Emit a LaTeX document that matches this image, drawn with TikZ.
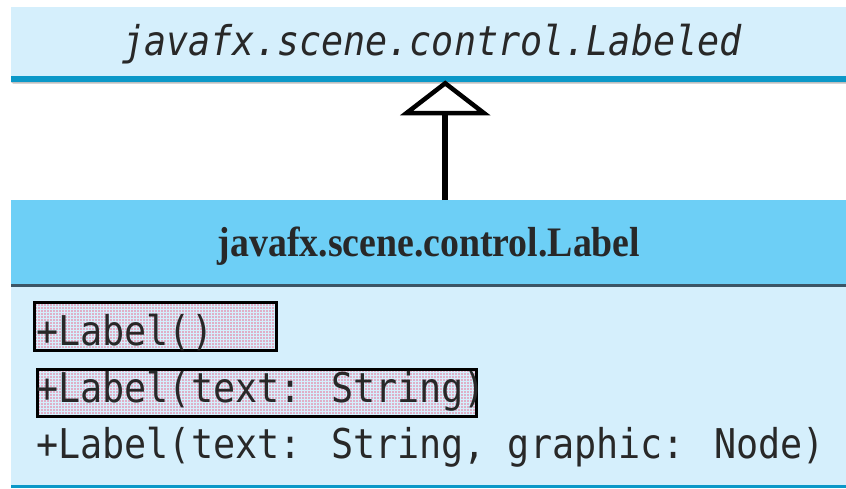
\documentclass[tikz,border=0pt]{standalone}
\usepackage{fontspec}
\setmainfont{Liberation Serif}
\newfontfamily\umlmono[FakeStretch=0.896]{DejaVu Sans Mono}
\newfontfamily\headserif[FakeStretch=0.9]{Liberation Serif}
\usetikzlibrary{arrows.meta,patterns.meta,calc}

\definecolor{paleblue}{RGB}{213,239,252}
\definecolor{headblue}{RGB}{109,207,246}
\definecolor{bandblue}{RGB}{11,152,200}
\definecolor{darkrule}{RGB}{59,85,102}
\definecolor{dotpink}{RGB}{234,110,145}
\definecolor{inkgray}{RGB}{40,40,40}

\begin{document}
\begin{tikzpicture}[x=1pt,y=-1pt,
  classbox/.style={rectangle, draw=none, inner sep=0pt, anchor=north west,
    minimum width=835pt},
  monotext/.style={font=\umlmono\fontsize{41}{48}\selectfont, text=inkgray},
  member/.style={monotext, anchor=base west, inner sep=0pt},
  marked/.style={rectangle, anchor=north west, inner sep=0pt, draw=black,
    line width=3pt, pattern={Dots[distance=3pt,radius=0.8pt]},
    pattern color=dotpink},
  generalize/.style={line width=5.5pt, draw=black,
    -{Triangle[open,length=35pt,width=90pt,line width=4.5pt]}}
]
\useasboundingbox (0,0) rectangle (846,488);

% superclass box
\node[classbox, fill=paleblue, minimum height=69pt] (labeled) at (11,7) {};
\fill[bandblue] (11,76) rectangle (846,82);
\fill[black!25] (11,82) -- (846,82) -- (846,83.5) -- (13,83.5) -- cycle;
\node[monotext, anchor=base] (labeledname) at (432,55)
  {\itshape javafx.scene.control.Labeled};

% Label class: name compartment
\node[classbox, fill=headblue, minimum height=84pt] (header) at (11,200) {};
\fill[darkrule] (11,284) rectangle (846,287);
\node[anchor=base, font=\headserif\bfseries\fontsize{42}{48}\selectfont,
  text=inkgray] (labelname) at (429,256) {javafx.scene.control.Label};

% Label class: member compartment
\node[classbox, fill=paleblue, minimum height=198pt] (body) at (11,287) {};
\fill[bandblue] (11,485) rectangle (846,488);

\node[marked, minimum width=242pt, minimum height=48pt] (mark1) at (33,301) {};
\node[marked, minimum width=439pt, minimum height=47pt] (mark2) at (36,368) {};

\node[member] (ctor1) at (36,345) {+Label()};
\node[member] (ctor2) at (36,402) {+Label(text: String)};
\node[member] (ctor3) at (36,458) {+Label(text: String, graphic: Node)};

% generalization arrow
\draw[generalize] ($(header.north)+(16.5,0)$) -- ($(labeled.south)+(16.5,4)$);
\end{tikzpicture}
\end{document}
